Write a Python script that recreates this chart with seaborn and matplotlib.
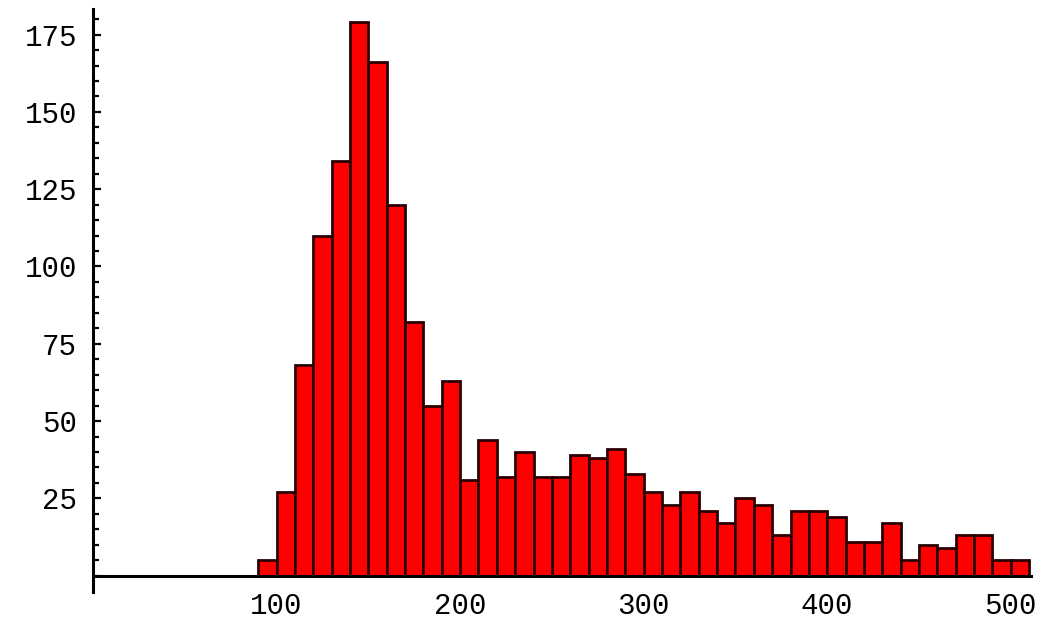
import numpy as np
import pandas as pd
import matplotlib
matplotlib.use("Agg")
import matplotlib.pyplot as plt
from matplotlib.ticker import FixedLocator
import seaborn as sns

# Histogram counts, bins of width 10 starting at 90
bin_start = 90
bin_width = 10
counts = [5, 27, 68, 110, 134, 179, 166, 120, 82, 55,
          63, 31, 44, 32, 40, 32, 32, 39, 38, 41,
          33, 27, 23, 27, 21, 17, 25, 23, 13, 21,
          21, 19, 11, 11, 17, 5, 10, 9, 13, 13,
          5, 5]
x_ticks = [100, 200, 300, 400, 500]
y_ticks = [25, 50, 75, 100, 125, 150, 175]

edges = [bin_start + bin_width * i for i in range(len(counts) + 1)]
centers = [(a + b) / 2 for a, b in zip(edges[:-1], edges[1:])]
df = pd.DataFrame({"value": centers, "count": counts})

sns.set_style("white")
plt.rcParams["font.family"] = ["Liberation Mono", "DejaVu Sans Mono"]

fig = plt.figure(figsize=(10.45, 6.2), dpi=100)
ax = fig.add_axes([93 / 1045, 28 / 620, (1031 - 93) / 1045, (611 - 28) / 620])

sns.histplot(data=df, x="value", weights="count", bins=edges, ax=ax,
             color="#ff0000", edgecolor="#2a0000", linewidth=2.0,
             alpha=1.0, stat="count")

ax.set_xlim(0, 511)
ax.set_ylim(-5.3, 183.3)

# axes crossing at the origin
for side in ("top", "right"):
    ax.spines[side].set_visible(False)
ax.spines["bottom"].set_position(("data", 0))
ax.spines["left"].set_position(("data", 0))
for side in ("bottom", "left"):
    ax.spines[side].set_color("black")
    ax.spines[side].set_linewidth(2.2)
    ax.spines[side].set_zorder(3)

ax.set_xticks(x_ticks)
ax.set_yticks(y_ticks)
ax.yaxis.set_minor_locator(FixedLocator(list(range(0, 181, 5))))
ax.tick_params(axis="x", which="both", length=0, pad=12, labelsize=21,
               labelcolor="black")
ax.tick_params(axis="y", which="major", direction="in", length=6, width=1.6,
               pad=11.5, labelsize=21, labelcolor="black", color="black")
ax.tick_params(axis="y", which="minor", direction="in", length=4, width=1.6,
               color="black")
ax.tick_params(left=True, which="both")

ax.set_xlabel("")
ax.set_ylabel("")
ax.grid(False)

fig.savefig("out.png", dpi=100, facecolor="white")
